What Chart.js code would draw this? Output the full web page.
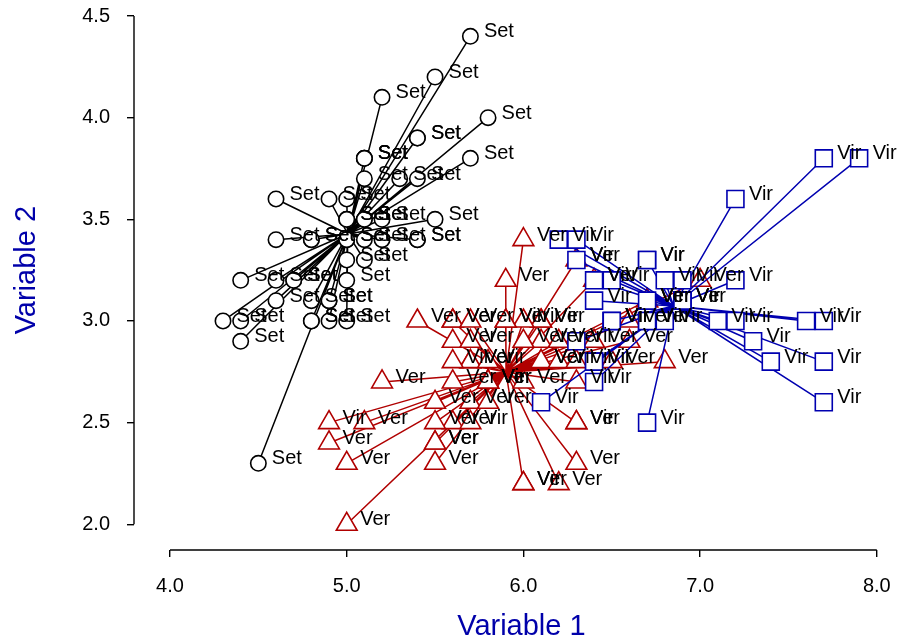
<!DOCTYPE html>
<html>
<head>
<meta charset="utf-8">
<title>Variable 1 vs Variable 2</title>
<script src="https://cdn.jsdelivr.net/npm/chart.js@4.4.1/dist/chart.umd.min.js"></script>
<style>
  html, body { margin: 0; padding: 0; background: #fff; overflow: hidden; }
  #wrap { width: 899px; height: 639px; position: relative; }
</style>
</head>
<body>
<div id="wrap"><canvas id="chart"></canvas></div>
<script>
  const xTicks = [4.0, 5.0, 6.0, 7.0, 8.0];
  const yTicks = [2.0, 2.5, 3.0, 3.5, 4.0, 4.5];

  // cluster centres (spokes start here)
  const centerX = [5.006, 5.9016, 6.85];
  const centerY = [3.428, 2.7484, 3.0737];

  // cluster 1 (circles)
  const group1X = [5.1, 4.9, 4.7, 4.6, 5.0, 5.4, 4.6, 5.0, 4.4, 4.9, 5.4, 4.8, 4.8, 4.3, 5.8, 5.7, 5.4, 5.1, 5.7, 5.1,
                   5.4, 5.1, 4.6, 5.1, 4.8, 5.0, 5.0, 5.2, 5.2, 4.7, 4.8, 5.4, 5.2, 5.5, 4.9, 5.0, 5.5, 4.9, 4.4, 5.1,
                   5.0, 4.5, 4.4, 5.0, 5.1, 4.8, 5.1, 4.6, 5.3, 5.0];
  const group1Y = [3.5, 3.0, 3.2, 3.1, 3.6, 3.9, 3.4, 3.4, 2.9, 3.1, 3.7, 3.4, 3.0, 3.0, 4.0, 4.4, 3.9, 3.5, 3.8, 3.8,
                   3.4, 3.7, 3.6, 3.3, 3.4, 3.0, 3.4, 3.5, 3.4, 3.2, 3.1, 3.4, 4.1, 4.2, 3.1, 3.2, 3.5, 3.6, 3.0, 3.4,
                   3.5, 2.3, 3.2, 3.5, 3.8, 3.0, 3.8, 3.2, 3.7, 3.3];
  const group1Labels = ["Set", "Set", "Set", "Set", "Set", "Set", "Set", "Set", "Set", "Set",
                        "Set", "Set", "Set", "Set", "Set", "Set", "Set", "Set", "Set", "Set",
                        "Set", "Set", "Set", "Set", "Set", "Set", "Set", "Set", "Set", "Set",
                        "Set", "Set", "Set", "Set", "Set", "Set", "Set", "Set", "Set", "Set",
                        "Set", "Set", "Set", "Set", "Set", "Set", "Set", "Set", "Set", "Set"];

  // cluster 2 (triangles)
  const group2X = [7.0, 6.4, 5.5, 6.5, 5.7, 6.3, 4.9, 6.6, 5.2, 5.0, 5.9, 6.0, 6.1, 5.6, 6.7, 5.6, 5.8, 6.2, 5.6, 5.9,
                   6.1, 6.3, 6.1, 6.4, 6.6, 6.8, 6.0, 5.7, 5.5, 5.5, 5.8, 6.0, 5.4, 6.0, 6.7, 6.3, 5.6, 5.5, 5.5, 6.1,
                   5.8, 5.0, 5.6, 5.7, 5.7, 6.2, 5.1, 5.7,
                   5.8, 4.9, 5.7, 5.8, 6.0, 5.6, 6.3, 6.2, 6.1, 6.3, 6.0, 5.8, 6.3, 5.9];
  const group2Y = [3.2, 3.2, 2.3, 2.8, 2.8, 3.3, 2.4, 2.9, 2.7, 2.0, 3.0, 2.2, 2.9, 2.9, 3.1, 3.0, 2.7, 2.2, 2.5, 3.2,
                   2.8, 2.5, 2.8, 2.9, 3.0, 2.8, 2.9, 2.6, 2.4, 2.4, 2.7, 2.7, 3.0, 3.4, 3.1, 2.3, 3.0, 2.5, 2.6, 3.0,
                   2.6, 2.3, 2.7, 3.0, 2.9, 2.9, 2.5, 2.8,
                   2.7, 2.5, 2.5, 2.8, 2.2, 2.8, 2.7, 2.8, 3.0, 2.8, 3.0, 2.7, 2.5, 3.0];
  const group2Labels = ["Ver", "Ver", "Ver", "Ver", "Ver", "Ver", "Ver", "Ver", "Ver", "Ver",
                        "Ver", "Ver", "Ver", "Ver", "Ver", "Ver", "Ver", "Ver", "Ver", "Ver",
                        "Ver", "Ver", "Ver", "Ver", "Ver", "Ver", "Ver", "Ver", "Ver", "Ver",
                        "Ver", "Ver", "Ver", "Ver", "Ver", "Ver", "Ver", "Ver", "Ver", "Ver",
                        "Ver", "Ver", "Ver", "Ver", "Ver", "Ver", "Ver", "Ver",
                        "Vir", "Vir", "Vir", "Vir", "Vir", "Vir", "Vir", "Vir", "Vir", "Vir",
                        "Vir", "Vir", "Vir", "Vir"];

  // cluster 3 (squares)
  const group3X = [6.9, 6.7,
                   6.3, 7.1, 6.3, 6.5, 7.6, 7.3, 6.7, 7.2, 6.5, 6.4, 6.8, 6.4, 6.5, 7.7, 7.7, 6.9, 7.7, 6.7,
                   7.2, 6.4, 7.2, 7.4, 7.9, 6.4, 6.1, 7.7, 6.3, 6.4, 6.9, 6.7, 6.9, 6.8, 6.7, 6.7, 6.5, 6.2];
  const group3Y = [3.1, 3.0,
                   3.3, 3.0, 2.9, 3.0, 3.0, 2.9, 2.5, 3.6, 3.2, 2.7, 3.0, 3.2, 3.0, 3.8, 2.6, 3.2, 2.8, 3.3,
                   3.2, 2.8, 3.0, 2.8, 3.8, 2.8, 2.6, 3.0, 3.4, 3.1, 3.1, 3.1, 3.1, 3.2, 3.3, 3.0, 3.0, 3.4];
  const group3Labels = ["Ver", "Ver",
                        "Vir", "Vir", "Vir", "Vir", "Vir", "Vir", "Vir", "Vir", "Vir", "Vir",
                        "Vir", "Vir", "Vir", "Vir", "Vir", "Vir", "Vir", "Vir", "Vir", "Vir",
                        "Vir", "Vir", "Vir", "Vir", "Vir", "Vir", "Vir", "Vir", "Vir", "Vir",
                        "Vir", "Vir", "Vir", "Vir", "Vir", "Vir"];

  const FONT = '"Liberation Sans", Arial, Helvetica, sans-serif';
  const RED = "#b00000";
  const BLUE = "#0000b0";
  const TITLE_COLOR = "#0000aa";

  function toPoints(xs, ys) {
    return xs.map((x, i) => ({ x, y: ys[i] }));
  }

  // centre -> point segments, broken by null gaps
  function spokes(cx, cy, xs, ys) {
    const pts = [];
    xs.forEach((x, i) => {
      pts.push({ x: cx, y: cy }, { x, y: ys[i] }, { x: null, y: null });
    });
    return pts;
  }

  const groups = [
    { xs: group1X, ys: group1Y, labels: group1Labels, color: "#000000", style: "circle", radius: 7.7 },
    { xs: group2X, ys: group2Y, labels: group2Labels, color: RED, style: "triangle", radius: 12 },
    { xs: group3X, ys: group3Y, labels: group3Labels, color: BLUE, style: "rect", radius: 12 }
  ];

  const datasets = [];
  groups.forEach((g, i) => {
    const base = (groups.length - i) * 2;
    datasets.push({
      data: spokes(centerX[i], centerY[i], g.xs, g.ys),
      showLine: true,
      spanGaps: false,
      borderColor: g.color,
      borderWidth: 1.5,
      pointRadius: 0,
      order: base
    });
    datasets.push({
      data: toPoints(g.xs, g.ys),
      showLine: false,
      pointStyle: g.style,
      pointRadius: g.radius,
      pointBackgroundColor: "#ffffff",
      pointBorderColor: g.color,
      pointBorderWidth: 1.6,
      order: base - 1,
      pointLabels: g.labels
    });
  });

  const labelPlugin = {
    id: "pointLabels",
    afterDatasetsDraw(chart) {
      const ctx = chart.ctx;
      ctx.save();
      ctx.font = "20px " + FONT;
      ctx.fillStyle = "#000";
      ctx.textAlign = "left";
      ctx.textBaseline = "alphabetic";
      chart.data.datasets.forEach((ds, i) => {
        if (!ds.pointLabels) return;
        chart.getDatasetMeta(i).data.forEach((pt, j) => {
          ctx.fillText(ds.pointLabels[j], pt.x + 13.5, pt.y + 1);
        });
      });
      ctx.restore();
    }
  };

  // R style axis lines (only between first and last tick) and titles
  const axesPlugin = {
    id: "baseAxes",
    afterDraw(chart) {
      const { ctx, chartArea, scales } = chart;
      const x = scales.x;
      const y = scales.y;
      ctx.save();
      ctx.strokeStyle = "#000";
      ctx.lineWidth = 1.4;
      ctx.beginPath();
      ctx.moveTo(x.getPixelForValue(xTicks[0]), chartArea.bottom);
      ctx.lineTo(x.getPixelForValue(xTicks[xTicks.length - 1]), chartArea.bottom);
      ctx.moveTo(chartArea.left, y.getPixelForValue(yTicks[0]));
      ctx.lineTo(chartArea.left, y.getPixelForValue(yTicks[yTicks.length - 1]));
      ctx.stroke();

      ctx.fillStyle = TITLE_COLOR;
      ctx.font = "29px " + FONT;
      ctx.textAlign = "center";
      ctx.textBaseline = "alphabetic";
      const midX = (x.getPixelForValue(xTicks[0]) + x.getPixelForValue(xTicks[xTicks.length - 1])) / 2;
      ctx.fillText("Variable 1", midX - 2, chartArea.bottom + 85);
      const midY = (y.getPixelForValue(yTicks[0]) + y.getPixelForValue(yTicks[yTicks.length - 1])) / 2;
      ctx.translate(35, midY);
      ctx.rotate(-Math.PI / 2);
      ctx.fillText("Variable 2", 0, 0);
      ctx.restore();
    }
  };

  function noPadding(scale) {
    scale.paddingLeft = 0;
    scale.paddingRight = 0;
    scale.paddingTop = 0;
    scale.paddingBottom = 0;
  }

  const tickGrid = {
    display: true,
    drawOnChartArea: false,
    drawTicks: true,
    tickLength: 7,
    color: "#000",
    lineWidth: 1.4
  };

  new Chart(document.getElementById("chart"), {
    type: "scatter",
    data: { datasets },
    options: {
      responsive: true,
      maintainAspectRatio: false,
      animation: false,
      events: [],
      devicePixelRatio: 1,
      layout: { padding: 0, autoPadding: false },
      plugins: {
        legend: { display: false },
        tooltip: { enabled: false }
      },
      scales: {
        x: {
          type: "linear",
          position: "bottom",
          min: 3.79626,
          max: 8.12563,
          border: { display: false },
          grid: tickGrid,
          afterBuildTicks: scale => { scale.ticks = xTicks.map(value => ({ value })); },
          afterFit: scale => { scale.height = 89; noPadding(scale); },
          ticks: {
            color: "#000",
            padding: 17,
            maxRotation: 0,
            font: { family: FONT, size: 20 },
            callback: v => Number(v).toFixed(1)
          }
        },
        y: {
          type: "linear",
          position: "left",
          min: 1.87358,
          max: 4.57870,
          border: { display: false },
          grid: tickGrid,
          afterBuildTicks: scale => { scale.ticks = yTicks.map(value => ({ value })); },
          afterFit: scale => { scale.width = 134; noPadding(scale); },
          ticks: {
            color: "#000",
            padding: 17,
            font: { family: FONT, size: 20 },
            callback: v => Number(v).toFixed(1)
          }
        }
      }
    },
    plugins: [axesPlugin, labelPlugin]
  });
</script>
</body>
</html>
